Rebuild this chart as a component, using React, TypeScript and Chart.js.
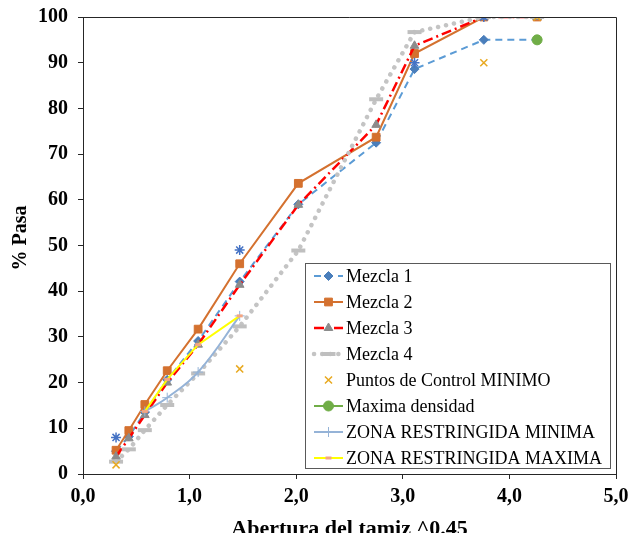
import { useEffect, useRef } from 'react';
import { Chart, registerables } from 'chart.js';
import { drawPoint } from 'chart.js/helpers';

Chart.register(...registerables);

// Sieve opening ^0.45
const sieveX = [0.31, 0.43, 0.58, 0.79, 1.08, 1.47, 2.02, 2.75, 3.11, 3.76, 4.26];
const mezcla1 = [5, 8.2, 13.5, 20.6, 29.1, 42.1, 59, 72.5, 88.6, 95, 95];
const mezcla2 = [5.2, 9.5, 15.2, 22.6, 31.7, 46, 63.6, 73.7, 92, 100, 100];
const mezcla3 = [3.8, 7.8, 12.9, 20, 28.3, 41.4, 58.9, 76.4, 93.7, 100, 100];
const mezcla4 = [2.7, 5.4, 9.6, 15.1, 22, 32.3, 48.9, 82, 96.7, 100, 100];
const controlMinX = [0.31, 1.47, 3.76, 4.26];
const controlMinY = [2, 23, 90, 100];
const controlMaxX = [0.31, 1.47, 3.11, 3.76];
const controlMaxY = [8, 49, 90, 100];
const densidadX = [4.26];
const densidadY = [95];
const zonaX = [0.58, 0.79, 1.08, 1.47];
const zonaMin = [13.7, 16.7, 22.3, 34.6];
const zonaMax = [13.7, 20.7, 28.3, 34.6];

const xTicks = [0, 1, 2, 3, 4, 5];
const yTicks = [0, 10, 20, 30, 40, 50, 60, 70, 80, 90, 100];

const labels = {
  m1: 'Mezcla 1',
  m2: 'Mezcla 2',
  m3: 'Mezcla 3',
  m4: 'Mezcla 4',
  cmin: 'Puntos de Control MINIMO',
  dens: 'Maxima densidad',
  zmin: 'ZONA RESTRINGIDA MINIMA',
  zmax: 'ZONA RESTRINGIDA MAXIMA',
  cmax: 'Puntos de Control MAXIMO',
};

const pts = (xs: number[], ys: number[]) => xs.map((x, i) => ({ x, y: ys[i] }));

const SERIF = '"Liberation Serif", "Times New Roman", serif';

const frameAndLegend = {
  id: 'frameAndLegend',
  afterDraw(chart: any) {
    const { ctx, chartArea } = chart;
    ctx.save();
    // plot-area frame (top and right)
    ctx.strokeStyle = '#262626';
    ctx.lineWidth = 1;
    ctx.setLineDash([]);
    ctx.beginPath();
    ctx.moveTo(chartArea.left, chartArea.top + 0.5);
    ctx.lineTo(chartArea.right + 0.5, chartArea.top + 0.5);
    ctx.lineTo(chartArea.right + 0.5, chartArea.bottom);
    ctx.stroke();

    // legend
    const w = 305;
    const h = 205;
    const x0 = chartArea.right - 6 - w;
    const y0 = chartArea.bottom - 6 - h;
    ctx.fillStyle = '#ffffff';
    ctx.fillRect(x0, y0, w, h);
    ctx.strokeStyle = '#595959';
    ctx.lineWidth = 1;
    ctx.strokeRect(x0 + 0.5, y0 + 0.5, w, h);

    const items = chart.data.datasets.filter((d: any) => !d.hideInLegend);
    items.forEach((d: any, i: number) => {
      const cy = y0 + 13 + i * 26;
      const lx1 = x0 + 9;
      const lx2 = x0 + 38;
      if (d.showLine !== false) {
        ctx.save();
        ctx.strokeStyle = d.borderColor;
        ctx.lineWidth = d.borderWidth;
        ctx.setLineDash(d.borderDash || []);
        ctx.lineCap = d.borderCapStyle || 'butt';
        ctx.beginPath();
        ctx.moveTo(lx1, cy);
        ctx.lineTo(lx2, cy);
        ctx.stroke();
        ctx.restore();
      }
      ctx.save();
      ctx.setLineDash([]);
      ctx.fillStyle = d.pointBackgroundColor;
      ctx.strokeStyle = d.pointBorderColor;
      ctx.lineWidth = d.pointBorderWidth;
      drawPoint(ctx, { pointStyle: d.pointStyle, radius: d.legendRadius ?? d.pointRadius, rotation: 0, borderWidth: d.pointBorderWidth }, (lx1 + lx2) / 2, cy);
      ctx.restore();
      ctx.fillStyle = '#000';
      ctx.font = '18px ' + SERIF;
      ctx.textBaseline = 'middle';
      ctx.textAlign = 'left';
      ctx.fillText(d.label, x0 + 41, cy + 1);
    });
    ctx.restore();
  },
};

export default function App() {
  const ref = useRef<HTMLCanvasElement>(null);
  useEffect(() => {
    const datasets: any[] = [
      {
        label: labels.m1,
        data: pts(sieveX, mezcla1),
        showLine: true,
        borderColor: '#5b9bd5',
        borderWidth: 2,
        borderDash: [7, 5],
        pointStyle: 'rectRot',
        pointRadius: 4.5,
        pointBackgroundColor: '#4a7ebb',
        pointBorderColor: '#4a7ebb',
        pointBorderWidth: 1,
      },
      {
        label: labels.m2,
        data: pts(sieveX, mezcla2),
        showLine: true,
        borderColor: '#d4712f',
        borderWidth: 2,
        pointStyle: 'rect',
        pointRadius: 5.5,
        pointBackgroundColor: '#d4712f',
        pointBorderColor: '#d4712f',
        pointBorderWidth: 1,
      },
      {
        label: labels.m3,
        data: pts(sieveX, mezcla3),
        showLine: true,
        borderColor: '#ff0000',
        borderWidth: 2.5,
        borderDash: [10, 4, 2, 4],
        pointStyle: 'triangle',
        pointRadius: 5,
        pointBackgroundColor: '#8c8c8c',
        pointBorderColor: '#8c8c8c',
        pointBorderWidth: 1,
      },
      {
        label: labels.m4,
        data: pts(sieveX, mezcla4),
        showLine: true,
        borderColor: '#c4c4c4',
        borderWidth: 4.5,
        borderDash: [0.1, 8],
        borderCapStyle: 'round',
        pointStyle: 'line',
        pointRadius: 7,
        legendRadius: 7,
        pointBackgroundColor: '#bfbfbf',
        pointBorderColor: '#bfbfbf',
        pointBorderWidth: 4,
      },
      {
        label: labels.cmin,
        data: pts(controlMinX, controlMinY),
        showLine: false,
        borderColor: '#e8a920',
        borderWidth: 0,
        pointStyle: 'crossRot',
        pointRadius: 5,
        pointBackgroundColor: '#e8a920',
        pointBorderColor: '#e8a920',
        pointBorderWidth: 1.5,
      },
      {
        label: labels.dens,
        data: pts(densidadX, densidadY),
        showLine: true,
        borderColor: '#70ad47',
        borderWidth: 2,
        pointStyle: 'circle',
        pointRadius: 5,
        pointBackgroundColor: '#70ad47',
        pointBorderColor: '#70ad47',
        pointBorderWidth: 1,
      },
      {
        label: labels.zmin,
        data: pts(zonaX, zonaMin),
        showLine: true,
        tension: 0.4,
        borderColor: '#95b3d7',
        borderWidth: 2,
        pointStyle: 'cross',
        pointRadius: 5,
        pointBackgroundColor: '#95b3d7',
        pointBorderColor: '#95b3d7',
        pointBorderWidth: 1,
      },
      {
        label: labels.zmax,
        data: pts(zonaX, zonaMax),
        showLine: true,
        borderColor: '#ffff00',
        borderWidth: 2,
        pointStyle: 'line',
        pointRadius: 3,
        pointBackgroundColor: '#f4a582',
        pointBorderColor: '#f4a582',
        pointBorderWidth: 3,
      },
      {
        label: labels.cmax,
        hideInLegend: true,
        data: pts(controlMaxX, controlMaxY),
        showLine: false,
        borderColor: '#4472c4',
        borderWidth: 0,
        pointStyle: 'star',
        pointRadius: 5,
        pointBackgroundColor: '#4472c4',
        pointBorderColor: '#4472c4',
        pointBorderWidth: 1.5,
      },
    ];
    datasets.forEach((d, i) => {
      d.order = 100 - i;
      d.pointHoverRadius = d.pointRadius;
    });

    const chart = new Chart(ref.current!, {
      type: 'scatter',
      data: { datasets },
      plugins: [frameAndLegend],
      options: {
        animation: false,
        responsive: false,
        layout: { padding: { left: 0, right: 15, top: 17, bottom: 0 } },
        plugins: { legend: { display: false }, tooltip: { enabled: false } },
        scales: {
          x: {
            type: 'linear',
            min: 0,
            max: 5,
            afterFit: (s: any) => {
              s.height = 59;
              s.paddingLeft = 0;
              s.paddingRight = 0;
            },
            afterBuildTicks: (s: any) => { s.ticks = xTicks.map((v) => ({ value: v })); },
            ticks: {
              callback: (v: any) => Number(v).toFixed(1).replace('.', ','),
              font: { family: SERIF, size: 20, weight: 'bold' },
              color: '#000',
              padding: 6,
              maxRotation: 0,
            },
            grid: { drawOnChartArea: false, drawTicks: true, tickLength: 5, color: '#262626' },
            border: { display: true, color: '#262626', width: 1 },
            title: {
              display: true,
              text: 'Abertura del tamiz ^0.45',
              font: { family: SERIF, size: 22, weight: 'bold', lineHeight: 1 },
              color: '#000',
              padding: { top: 0, bottom: -7 },
            },
          },
          y: {
            type: 'linear',
            min: 0,
            max: 100,
            afterFit: (s: any) => {
              s.width = 83;
              s.paddingTop = 0;
              s.paddingBottom = 0;
            },
            afterBuildTicks: (s: any) => { s.ticks = yTicks.map((v) => ({ value: v })); },
            ticks: {
              font: { family: SERIF, size: 20, weight: 'bold' },
              color: '#000',
              padding: 10,
            },
            grid: { drawOnChartArea: false, drawTicks: true, tickLength: 5, color: '#262626' },
            border: { display: true, color: '#262626', width: 1 },
            title: {
              display: true,
              text: '   % Pasa',
              font: { family: SERIF, size: 20, weight: 'bold', lineHeight: 1.2 },
              color: '#000',
              padding: { top: 9, bottom: 0 },
            },
          },
        },
      } as any,
    });
    return () => chart.destroy();
  }, []);

  return (
    <div style={{ position: 'fixed', left: 0, top: 0, width: 631, height: 533, background: '#fff' }}>
      <canvas ref={ref} width={631} height={533} style={{ display: 'block' }} />
    </div>
  );
}
